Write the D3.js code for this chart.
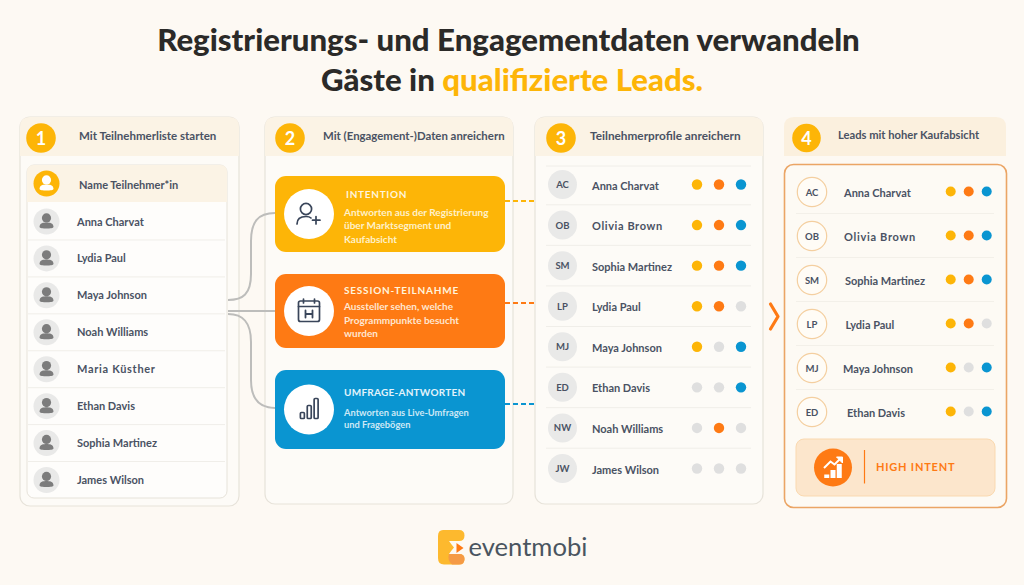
<!DOCTYPE html>
<html>
<head>
<meta charset="utf-8">
<script src="https://cdn.jsdelivr.net/npm/d3@7"></script>
<style>
  html, body { margin: 0; padding: 0; background: #fdf9f3; }
  svg { display: block; font-family: Lato, "Open Sans", sans-serif; }
</style>
</head>
<body>
<div id="chart"></div>
<script>
//source lists, one per column of the graphic
var stepTitles = ["Mit Teilnehmerliste starten", "Mit (Engagement-)Daten anreichern", "Teilnehmerprofile anreichern", "Leads mit hoher Kaufabsicht"];

var attendees = ["Anna Charvat", "Lydia Paul", "Maya Johnson", "Noah Williams", "Maria Küsther", "Ethan Davis", "Sophia Martinez", "James Wilson"];

var profileNames = ["Anna Charvat", "Olivia Brown", "Sophia Martinez", "Lydia Paul", "Maya Johnson", "Ethan Davis", "Noah Williams", "James Wilson"];
var profileInitials = ["AC", "OB", "SM", "LP", "MJ", "ED", "NW", "JW"];
//1 = signal present, 0 = grey dot
var hasIntention = [1, 1, 1, 1, 1, 0, 0, 0];
var hasSession   = [1, 1, 1, 1, 0, 0, 1, 0];
var hasSurvey    = [1, 1, 1, 0, 1, 1, 0, 0];

var leadNames = ["Anna Charvat", "Olivia Brown", "Sophia Martinez", "Lydia Paul", "Maya Johnson", "Ethan Davis"];
var leadInitials = ["AC", "OB", "SM", "LP", "MJ", "ED"];
var leadIntention = [1, 1, 1, 1, 1, 1];
var leadSession   = [1, 1, 1, 1, 0, 0];
var leadSurvey    = [1, 1, 1, 0, 1, 1];

var cardTitles = ["INTENTION", "SESSION-TEILNAHME", "UMFRAGE-ANTWORTEN"];
var cardBodies = [
  ["Antworten aus der Registrierung", "über Marktsegment und", "Kaufabsicht"],
  ["Aussteller sehen, welche", "Programmpunkte besucht", "wurden"],
  ["Antworten aus Live-Umfragen", "und Fragebögen"]
];

var yellow = "#fdb507", orange = "#fe7a14", blue = "#0a95d1", grey = "#dfdfdf";
var ink = "#4a5263", panelFill = "#fdfbf7", headFill = "#fbf3e5", line = "#e7e3da";
var signalColours = [yellow, orange, blue];

var width = 1024, height = 585;

var svg = d3.select("#chart").append("svg")
  .attr("width", width)
  .attr("height", height)
  .attr("viewBox", "0 0 " + width + " " + height);

svg.append("rect").attr("width", width).attr("height", height).attr("fill", "#fdf9f3");

//title
var title = svg.append("g").attr("text-anchor", "middle").attr("font-weight", 900).attr("font-size", 31.2).attr("fill", "#2b2a28");
title.append("text").attr("x", 508.5).attr("y", 51).text("Registrierungs- und Engagementdaten verwandeln");
var title2 = title.append("text").attr("x", 512).attr("y", 91);
title2.append("tspan").text("Gäste in ");
title2.append("tspan").attr("fill", yellow).text("qualifizierte Leads.");

//rounded rect with only the top corners round, for panel headers
function topRounded(x, y, w, h, r) {
  return "M" + x + "," + (y + h) + "V" + (y + r) + "Q" + x + "," + y + " " + (x + r) + "," + y +
    "H" + (x + w - r) + "Q" + (x + w) + "," + y + " " + (x + w) + "," + (y + r) + "V" + (y + h) + "Z";
}

function panel(x, y, w, h, r) {
  svg.append("rect").attr("x", x).attr("y", y).attr("width", w).attr("height", h).attr("rx", r)
    .attr("fill", panelFill).attr("stroke", line).attr("stroke-width", 1.2);
}

var headerSizes = [11.5, 11.4, 11.8, 11.2];

function stepHeader(i, x, w, cx, tx) {
  svg.append("path").attr("d", topRounded(x, 117, w, 39, 10)).attr("fill", headFill);
  svg.append("circle").attr("cx", cx).attr("cy", 138).attr("r", 14.8).attr("fill", yellow);
  svg.append("text").attr("x", cx).attr("y", 144.5).attr("text-anchor", "middle")
    .attr("font-size", 18).attr("font-weight", 700).attr("fill", "#fff").text(i + 1);
  svg.append("text").attr("x", tx).attr("y", 140).attr("font-size", headerSizes[i]).attr("font-weight", 700)
    .attr("fill", ink).text(stepTitles[i]);
}

panel(20, 117, 219, 389, 10);
panel(265, 117, 248, 387, 10);
panel(535, 117, 228, 387, 10);

stepHeader(0, 20, 219, 41, 79);
stepHeader(1, 265, 248, 290, 323);
stepHeader(2, 535, 228, 561, 590);

//connectors from the attendee list to the cards
var connectors = [
  "M228,300C243,300 251,294 251,274V241C251,222 258,213 275,213",
  "M228,311H275",
  "M228,314C243,314 251,322 251,342V380C251,398 258,408 275,408"
];
svg.append("g").selectAll("path").data(connectors).enter().append("path")
  .attr("d", function (d) { return d; })
  .attr("fill", "none").attr("stroke", "#bdbdbb").attr("stroke-width", 2);

//column 1 list
svg.append("rect").attr("x", 27).attr("y", 165).attr("width", 200).attr("height", 333).attr("rx", 7)
  .attr("fill", "#fefdfb").attr("stroke", line).attr("stroke-width", 1);
svg.append("path").attr("d", topRounded(27, 165, 200, 37, 7)).attr("fill", headFill);

function personIcon(g, cx, cy, colour) {
  g.append("circle").attr("cx", cx).attr("cy", cy - 3.6).attr("r", 4.6).attr("fill", colour);
  g.append("path").attr("fill", colour)
    .attr("d", "M" + (cx - 7) + "," + (cy + 5.5) + "C" + (cx - 7) + "," + (cy + 1.5) + " " + (cx - 3) + "," + (cy + 1) + " " + cx + "," + (cy + 1) +
      "C" + (cx + 3) + "," + (cy + 1) + " " + (cx + 7) + "," + (cy + 1.5) + " " + (cx + 7) + "," + (cy + 5.5) +
      "C" + (cx + 7) + "," + (cy + 7.5) + " " + (cx - 7) + "," + (cy + 7.5) + " " + (cx - 7) + "," + (cy + 5.5) + "Z");
}

svg.append("circle").attr("cx", 46.5).attr("cy", 183.5).attr("r", 13).attr("fill", yellow);
personIcon(svg, 46.5, 183.5, "#fff");
svg.append("text").attr("x", 79).attr("y", 189).attr("font-size", 11).attr("font-weight", 700)
  .attr("fill", ink).text("Name Teilnehmer*in");

var yAttendee = d3.scalePoint().domain(attendees).range([221.5, 480]);
var attendeeRows = svg.append("g").selectAll("g").data(attendees).enter().append("g");

attendeeRows.filter(function (d, i) { return i < attendees.length - 1; }).append("line")
  .attr("x1", 28).attr("x2", 225)
  .attr("y1", function (d) { return yAttendee(d) + yAttendee.step() / 2; })
  .attr("y2", function (d) { return yAttendee(d) + yAttendee.step() / 2; })
  .attr("stroke", "#f0eee9");
attendeeRows.append("circle").attr("cx", 46.5).attr("cy", function (d) { return yAttendee(d); })
  .attr("r", 13).attr("fill", "#e9e9e8");
attendeeRows.each(function (d) { personIcon(d3.select(this), 46.5, yAttendee(d), "#7c7c7c"); });
attendeeRows.append("text").attr("x", 77).attr("y", function (d) { return yAttendee(d) + 4; })
  .attr("font-size", 11).attr("font-weight", 700).attr("fill", ink)
  .attr("letter-spacing", function (d) { return d == "Maria Küsther" ? 0.7 : 0; })
  .text(function (d) { return d; });

//column 2 cards
var cardColours = [yellow, orange, blue];
var cardTop = [176, 274, 370];
var cardHeight = [76, 74, 79];
var cardTitleX = [346, 344, 344];
var cardTitleY = [198, 294, 396];
var cardTitleSpacing = [0.7, 0.8, 0.25];
var cardBodyY = [[215.5, 229, 243], [310, 323.5, 337], [416, 428]];
var bodyColours = ["#fff1c9", "#ffe6d0", "#cde8f5"];
var dashY = [201, 303, 404];

cardTitles.forEach(function (t, i) {
  svg.append("line").attr("x1", 505).attr("x2", 535).attr("y1", dashY[i]).attr("y2", dashY[i])
    .attr("stroke", cardColours[i]).attr("stroke-width", 2.2).attr("stroke-dasharray", "5 3");
  svg.append("rect").attr("x", 275).attr("y", cardTop[i]).attr("width", 230).attr("height", cardHeight[i])
    .attr("rx", 11).attr("fill", cardColours[i]);
  svg.append("circle").attr("cx", 309).attr("cy", cardTop[i] + cardHeight[i] / 2).attr("r", 25).attr("fill", "#fff");
  svg.append("text").attr("x", cardTitleX[i]).attr("y", cardTitleY[i]).attr("font-size", 10)
    .attr("font-weight", 700).attr("letter-spacing", cardTitleSpacing[i]).attr("fill", i == 2 ? "#e3f3fb" : "#fff4dc").text(t);
  cardBodies[i].forEach(function (b, j) {
    svg.append("text").attr("x", 344).attr("y", cardBodyY[i][j]).attr("font-size", i == 2 ? 9.3 : 10)
      .attr("font-weight", 700).attr("fill", bodyColours[i]).text(b);
  });
});

//card icons
var iconStroke = "#39455a";
var icons = svg.append("g").attr("fill", "none").attr("stroke", iconStroke).attr("stroke-width", 1.7).attr("stroke-linecap", "round");
icons.append("circle").attr("cx", 306).attr("cy", 209).attr("r", 5.6);
icons.append("path").attr("d", "M297,224C297,218 301,216.5 306,216.5C308,216.5 310,217 311,218");
icons.append("path").attr("d", "M316,216.5V224M312.5,220.2H320");
icons.append("rect").attr("x", 298.5).attr("y", 301).attr("width", 21).attr("height", 20.5).attr("rx", 2);
icons.append("path").attr("d", "M298.5,306.5H319.5M303.5,299V303M314.5,299V303");
icons.append("path").attr("stroke-width", 1.8).attr("d", "M305.5,310.5V317.5M312.5,310.5V317.5M305.5,314H312.5");
//survey bars, heights picked by eye from the icon
var surveyIconLabels = ["a", "b", "c"];
var surveyIconValues = [6, 13, 20];
var iconX = d3.scaleBand().domain(surveyIconLabels).range([297.5, 321]).padding(0.42);
var iconY = d3.scaleLinear().domain([0, 20]).range([418.5, 398.5]);
icons.selectAll(".ibar").data(surveyIconValues).enter().append("rect").attr("class", "ibar")
  .attr("x", function (d, i) { return iconX(surveyIconLabels[i]); })
  .attr("width", iconX.bandwidth())
  .attr("y", function (d) { return iconY(d); })
  .attr("height", function (d) { return iconY(0) - iconY(d); })
  .attr("rx", 1);

//column 3 profiles
var yProfile = d3.scalePoint().domain(profileNames).range([184.5, 468.5]);
var xSignal = d3.scalePoint().domain([0, 1, 2]).range([697, 741]);
var profileSignals = [hasIntention, hasSession, hasSurvey];

svg.append("line").attr("x1", 546).attr("x2", 751).attr("y1", 166).attr("y2", 166).attr("stroke", "#f0eee9");

var profileRows = svg.append("g").selectAll("g").data(profileNames).enter().append("g");
profileRows.filter(function (d, i) { return i < profileNames.length - 1; }).append("line")
  .attr("x1", 546).attr("x2", 751)
  .attr("y1", function (d) { return yProfile(d) + yProfile.step() / 2; })
  .attr("y2", function (d) { return yProfile(d) + yProfile.step() / 2; })
  .attr("stroke", "#f0eee9");
profileRows.append("circle").attr("cx", 562.5).attr("cy", function (d) { return yProfile(d); })
  .attr("r", 14.5).attr("fill", "#e9e9e8");
profileRows.append("text").attr("x", 562.5).attr("y", function (d) { return yProfile(d) + 3.5; })
  .attr("text-anchor", "middle").attr("font-size", 9.5).attr("font-weight", 700).attr("fill", ink)
  .text(function (d, i) { return profileInitials[i]; });
profileRows.append("text").attr("x", 592).attr("y", function (d) { return yProfile(d) + 5; })
  .attr("font-size", 11).attr("font-weight", 700).attr("fill", ink)
  .attr("letter-spacing", function (d) { return d == "Olivia Brown" ? 0.6 : 0; })
  .text(function (d) { return d; });
profileSignals.forEach(function (s, k) {
  profileRows.append("circle").attr("cx", xSignal(k)).attr("cy", function (d) { return yProfile(d); })
    .attr("r", 5.2).attr("fill", function (d, i) { return s[i] ? signalColours[k] : grey; });
});

//arrow between 3 and 4
svg.append("path").attr("d", "M770.5,304L778,316.5L770.5,329").attr("fill", "none")
  .attr("stroke", orange).attr("stroke-width", 3.2).attr("stroke-linecap", "round").attr("stroke-linejoin", "round");

//column 4 leads
svg.append("path").attr("d", topRounded(784, 117, 222, 39, 10)).attr("fill", "#fbf0de");
svg.append("circle").attr("cx", 806.5).attr("cy", 138).attr("r", 14.3).attr("fill", yellow);
svg.append("text").attr("x", 806.5).attr("y", 144.5).attr("text-anchor", "middle")
  .attr("font-size", 18).attr("font-weight", 700).attr("fill", "#fff").text(4);
svg.append("text").attr("x", 838).attr("y", 139).attr("font-size", headerSizes[3]).attr("font-weight", 700)
  .attr("fill", ink).text(stepTitles[3]);

svg.append("rect").attr("x", 784.5).attr("y", 164.5).attr("width", 222).attr("height", 343).attr("rx", 9)
  .attr("fill", "#fdfaf4").attr("stroke", "#eba565").attr("stroke-width", 1.6);

var yLead = d3.scalePoint().domain(leadNames).range([192, 412]);
var xLead = d3.scalePoint().domain([0, 1, 2]).range([950.7, 986.7]);
var leadSignals = [leadIntention, leadSession, leadSurvey];
var leadTextX = [844, 844, 845, 845.5, 843, 847];

var leadRows = svg.append("g").selectAll("g").data(leadNames).enter().append("g");
leadRows.filter(function (d, i) { return i < leadNames.length - 1; }).append("line")
  .attr("x1", 796).attr("x2", 994)
  .attr("y1", function (d) { return yLead(d) + yLead.step() / 2 - 0.5; })
  .attr("y2", function (d) { return yLead(d) + yLead.step() / 2 - 0.5; })
  .attr("stroke", "#f3f0e9");
leadRows.append("circle").attr("cx", 812).attr("cy", function (d) { return yLead(d); })
  .attr("r", 14.7).attr("fill", "#fffcf6").attr("stroke", "#f4cfa0").attr("stroke-width", 1.2);
leadRows.append("text").attr("x", 812).attr("y", function (d) { return yLead(d) + 3.5; })
  .attr("text-anchor", "middle").attr("font-size", 9.5).attr("font-weight", 700).attr("fill", ink)
  .text(function (d, i) { return leadInitials[i]; });
leadRows.append("text").attr("x", function (d, i) { return leadTextX[i]; }).attr("y", function (d) { return yLead(d) + 4.5; })
  .attr("font-size", 11).attr("font-weight", 700).attr("fill", ink)
  .attr("letter-spacing", function (d) { return d == "Olivia Brown" ? 0.7 : 0; })
  .text(function (d) { return d; });
leadSignals.forEach(function (s, k) {
  leadRows.append("circle").attr("cx", xLead(k)).attr("cy", function (d) { return yLead(d) - 0.5; })
    .attr("r", 5).attr("fill", function (d, i) { return s[i] ? signalColours[k] : grey; });
});

//high intent box
svg.append("rect").attr("x", 796).attr("y", 439).attr("width", 199).attr("height", 57).attr("rx", 8)
  .attr("fill", "#fce6cc").attr("stroke", "#fad9b0");
svg.append("circle").attr("cx", 833).attr("cy", 467.5).attr("r", 19).attr("fill", orange);
svg.append("line").attr("x1", 864.5).attr("x2", 864.5).attr("y1", 450).attr("y2", 483.5).attr("stroke", orange).attr("stroke-width", 1.2);
svg.append("text").attr("x", 876).attr("y", 470.5).attr("font-size", 11).attr("font-weight", 700)
  .attr("letter-spacing", 0.8).attr("fill", orange).text("HIGH INTENT");
//trend bars in the icon
var trendLabels = ["a", "b", "c"];
var trendValues = [3.5, 8, 14];
var trendX = d3.scaleBand().domain(trendLabels).range([823, 843]).padding(0.2);
var trendY = d3.scaleLinear().domain([0, 14]).range([478, 464]);
svg.selectAll(".tbar").data(trendValues).enter().append("rect").attr("class", "tbar")
  .attr("x", function (d, i) { return trendX(trendLabels[i]); })
  .attr("width", trendX.bandwidth())
  .attr("y", function (d) { return trendY(d); })
  .attr("height", function (d) { return trendY(0) - trendY(d); })
  .attr("fill", "#fff");
svg.append("path").attr("d", "M824,468L830.5,461.5L834.5,464.5L841,458").attr("fill", "none")
  .attr("stroke", "#fff").attr("stroke-width", 2);
svg.append("path").attr("d", "M836.5,457H842.5V463Z").attr("fill", "#fff").attr("stroke", "#fff");

//logo
svg.append("path").attr("fill", "#fdb92e")
  .attr("d", "M443,530H459Q464.5,530 464.5,535.5Q464.5,541 459,541H449Q451,544 454,547.5Q451,551 449,554H459Q464.5,554 464.5,559Q464.5,564.5 459,564.5H444Q438,564.5 438,558V536Q438,530 443,530Z");
svg.append("path").attr("fill", "#f59a45").attr("d", "M449,554H459Q464.5,554 464.5,559Q464.5,564.5 459,564.5H452Q447,560 449,554Z");
svg.append("path").attr("fill", orange).attr("d", "M456.5,543L463.5,548L456.5,553Z");
svg.append("text").attr("x", 468.5).attr("y", 556).attr("font-size", 25.6).attr("font-weight", 400)
  .attr("fill", "#4a5560").text("eventmobi");
</script>
</body>
</html>
